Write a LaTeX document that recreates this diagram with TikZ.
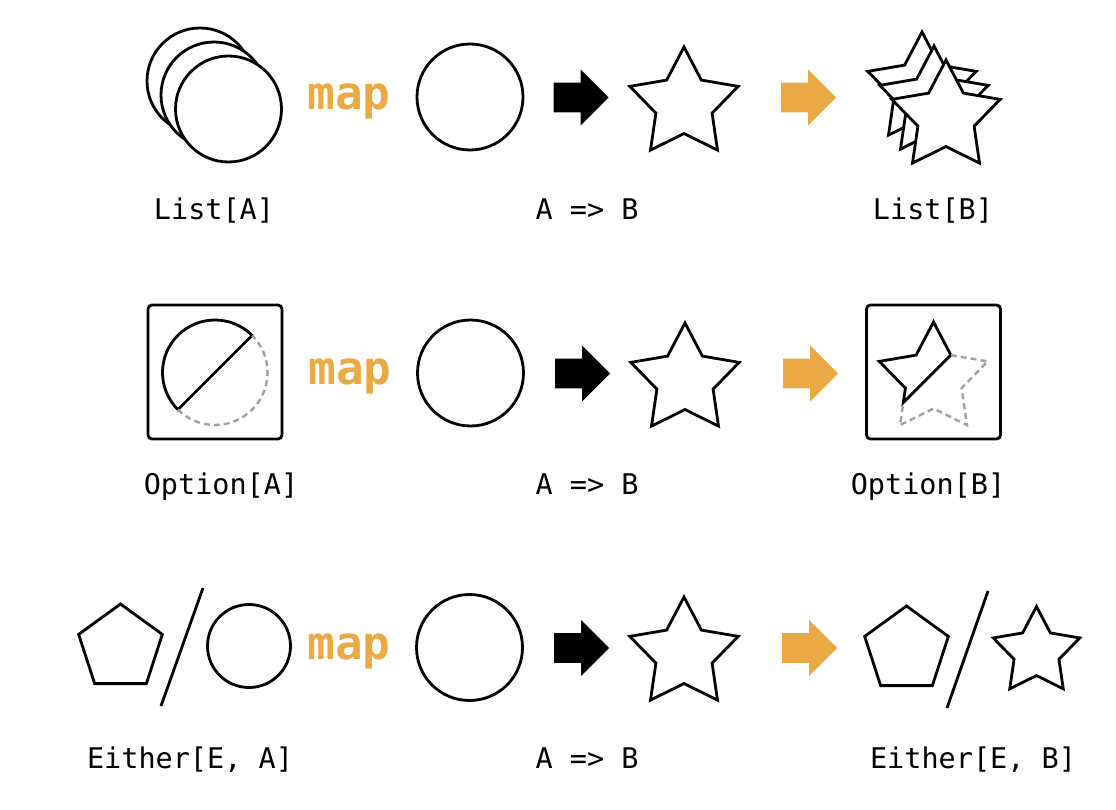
\documentclass[tikz,border=0pt]{standalone}
\usepackage{fontspec}
\setmonofont{DejaVu Sans Mono}
\usetikzlibrary{shapes.geometric,shapes.arrows,calc}
\definecolor{maporange}{RGB}{234,169,68}
\definecolor{nonegray}{RGB}{160,160,160}

\begin{document}
\begin{tikzpicture}[x=1pt, y=1pt, line width=2.8pt,
    ball/.style={circle, draw, fill=white, inner sep=0pt, outer sep=0pt, minimum size=#1},
    ball/.default=106pt,
    starshape/.style={star, star points=5, star point ratio=1.93, draw, fill=white, inner sep=0pt, outer sep=0pt, minimum size=#1},
    starshape/.default=114pt,
    penta/.style={regular polygon, regular polygon sides=5, draw, inner sep=0pt, outer sep=0pt, minimum size=88pt},
    fatarrow/.style={single arrow, fill=#1, draw=none, anchor=tail, inner xsep=0pt, inner ysep=13.5pt, outer sep=0pt, minimum height=55pt, single arrow head extend=13pt},
    boxed/.style={draw, rounded corners=4pt, minimum size=134pt, inner sep=0pt},
    mapword/.style={text=maporange, anchor=base, font=\fontsize{46}{46}\selectfont\ttfamily\bfseries},
    typename/.style={anchor=base, font=\fontsize{28.5}{30}\selectfont\ttfamily},
    emptypart/.style={draw=nonegray, dash pattern=on 6pt off 4pt, line width=2.4pt}]
      \useasboundingbox (0,0) rectangle (1116,-810);

      \node[ball] (listA1) at (200,-81) {};
      \node[ball] (listA2) at (214,-95) {};
      \node[ball] (listA3) at (228.5,-109) {};
      \node[mapword] (map1) at (349,-109.5) {map};
      \node[ball] (fromA1) at (470,-97) {};
      \node[fatarrow=black] (fun1) at (553.5,-97.5) {};
      \node[starshape] (toB1) at (684,-104) {};
      \node[fatarrow=maporange] (res1) at (781,-97.5) {};
      \node[starshape] (listB1) at (922,-89) {};
      \node[starshape] (listB2) at (934,-103) {};
      \node[starshape] (listB3) at (946,-117) {};
      \node[typename] (nameListA) at (214,-219.5) {List[A]};
      \node[typename] (nameFun1) at (587,-219.5) {A => B};
      \node[typename] (nameListB) at (933,-219.5) {List[B]};

      \node[boxed] (optA) at (215,-372) {};
      \node[circle, inner sep=0pt, outer sep=0pt, minimum size=105pt] (someA) at (215,-372.5) {};
      \draw (someA.45) arc[start angle=45, end angle=225, radius=52.5] -- cycle;
      \draw[emptypart] (someA.225) arc[start angle=225, end angle=405, radius=52.5];
      \node[mapword] (map2) at (350,-384.5) {map};
      \node[ball] (fromA2) at (470.5,-373) {};
      \node[fatarrow=black] (fun2) at (555,-373.5) {};
      \node[starshape] (toB2) at (685,-380) {};
      \node[fatarrow=maporange] (res2) at (783,-373.5) {};
      \node[boxed] (optB) at (933.5,-372) {};
      \node[starshape, draw=none, fill=none] (someB) at (933.5,-379) {};
      \coordinate (cutB) at ($(someB.inner point 2)!0.39!(someB.outer point 3)$);
      \draw (someB.inner point 5) -- (someB.outer point 1) -- (someB.inner point 1) -- (someB.outer point 2)
        -- (someB.inner point 2) -- (cutB) -- cycle;
      \draw[emptypart] (someB.inner point 5) -- (someB.outer point 5) -- (someB.inner point 4) -- (someB.outer point 4)
        -- (someB.inner point 3) -- (someB.outer point 3) -- (cutB);
      \node[typename] (nameOptA) at (221,-494) {Option[A]};
      \node[typename] (nameFun2) at (587,-494) {A => B};
      \node[typename] (nameOptB) at (928,-494) {Option[B]};

      \node[penta] (leftE) at (120.5,-648) {};
      \draw (203,-588) -- (161,-706);
      \node[ball=83pt] (rightA) at (249,-646) {};
      \node[mapword] (map3) at (349,-659.5) {map};
      \node[ball] (fromA3) at (469.5,-647.5) {};
      \node[fatarrow=black] (fun3) at (554,-648) {};
      \node[starshape] (toB3) at (684,-654) {};
      \node[fatarrow=maporange] (res3) at (782,-648) {};
      \node[penta] (leftE2) at (906.5,-650) {};
      \draw (988,-591) -- (947,-708);
      \node[starshape=91pt] (rightB) at (1036.5,-652) {};
      \node[typename] (nameEitherA) at (190,-768) {Either[E, A]};
      \node[typename] (nameFun3) at (587,-768) {A => B};
      \node[typename] (nameEitherB) at (973,-768) {Either[E, B]};
    \end{tikzpicture}
\end{document}
